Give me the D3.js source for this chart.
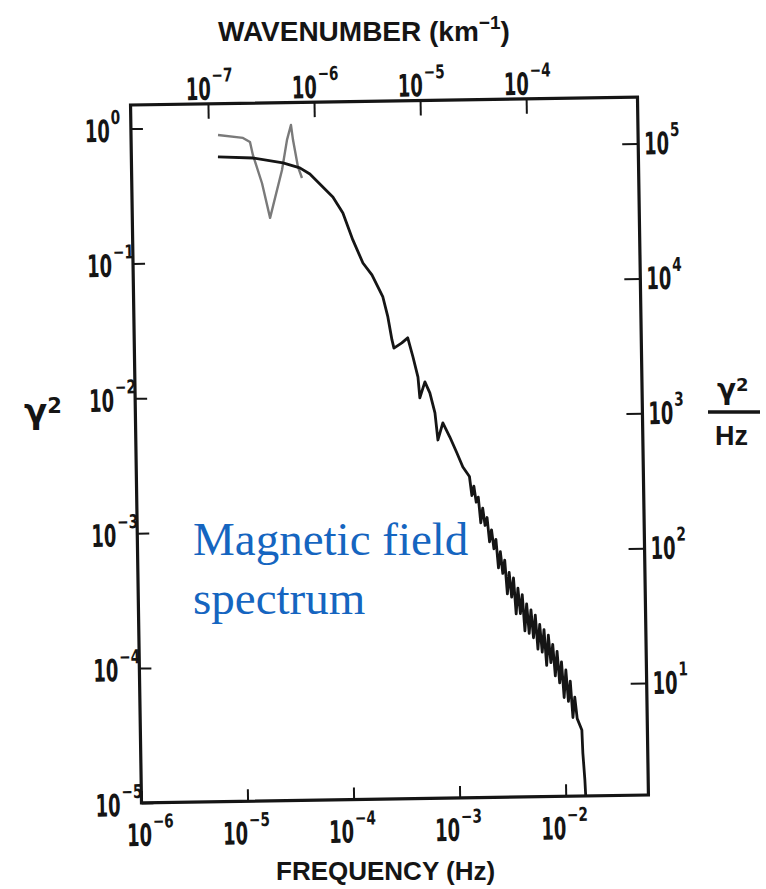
<!DOCTYPE html>
<html><head><meta charset="utf-8">
<script src="https://cdn.jsdelivr.net/npm/d3@7/dist/d3.min.js"></script>
<style>body{margin:0;background:#fff}svg{display:block}</style>
</head><body>
<svg id="chart" width="766" height="889"></svg>
<script>
// ---- data ----
const freqTicks  = [1e-6, 1e-5, 1e-4, 1e-3, 1e-2];          // Hz (bottom)
const waveTicks  = [1e-7, 1e-6, 1e-5, 1e-4];                // km^-1 (top)
const powerTicks = [1, 1e-1, 1e-2, 1e-3, 1e-4, 1e-5];       // gamma^2 (left)
const densTicks  = [1e5, 1e4, 1e3, 1e2, 1e1];               // gamma^2/Hz (right)

const mainFreq = [6.55e-6, 1.40e-5, 2.68e-5, 3.86e-5, 4.79e-5, 6.32e-5, 7.83e-5, 9.68e-5,
  1.19e-4, 1.47e-4, 1.78e-4, 2.24e-4, 2.48e-4, 2.69e-4, 2.80e-4, 3.33e-4, 3.79e-4, 4.22e-4,
  4.67e-4, 4.83e-4, 5.42e-4, 6.01e-4, 6.67e-4, 7.05e-4, 7.89e-4, 9.14e-4, 1.06e-3, 1.20e-3,
  1.380e-3, 1.445e-3, 1.514e-3, 1.585e-3, 1.660e-3, 1.738e-3, 1.820e-3, 1.905e-3, 1.995e-3,
  2.089e-3, 2.188e-3, 2.291e-3, 2.399e-3, 2.512e-3, 2.630e-3, 2.754e-3, 2.884e-3, 3.020e-3,
  3.162e-3, 3.311e-3, 3.467e-3, 3.631e-3, 3.802e-3, 3.981e-3, 4.169e-3, 4.365e-3, 4.571e-3,
  4.786e-3, 5.012e-3, 5.248e-3, 5.495e-3, 5.754e-3, 6.026e-3, 6.310e-3, 6.607e-3, 6.918e-3,
  7.244e-3, 7.586e-3, 7.943e-3, 8.318e-3, 8.710e-3, 9.120e-3, 9.550e-3, 1.000e-2, 1.047e-2,
  1.096e-2, 1.148e-2, 1.202e-2, 1.259e-2, 1.318e-2, 1.452e-2, 1.472e-2, 1.524e-2, 1.549e-2, 1.563e-2];
const mainPower = [0.603, 0.586, 0.535, 0.489, 0.439, 0.351, 0.295, 0.224,
  0.141, 0.0948, 0.0771, 0.0528, 0.0375, 0.0253, 0.0220, 0.0240, 0.0261, 0.0188,
  0.0133, 0.00933, 0.01225, 0.01014, 0.00720, 0.00453, 0.00605, 0.00475, 0.00361, 0.00284,
  2.41e-3, 1.74e-3, 2.04e-3, 1.55e-3, 1.69e-3, 1.09e-3, 1.40e-3, 1.04e-3, 1.19e-3,
  7.85e-4, 9.64e-4, 6.97e-4, 8.17e-4, 5.02e-4, 6.61e-4, 4.56e-4, 5.73e-4, 3.21e-4,
  4.63e-4, 3.04e-4, 4.22e-4, 2.28e-4, 3.53e-4, 2.29e-4, 3.16e-4, 1.70e-4, 2.70e-4,
  1.63e-4, 2.43e-4, 1.51e-4, 2.22e-4, 1.24e-4, 1.89e-4, 1.18e-4, 1.73e-4, 9.38e-5,
  1.57e-4, 9.82e-5, 1.34e-4, 7.82e-5, 1.19e-4, 6.95e-5, 9.93e-5, 5.40e-5, 8.63e-5,
  5.04e-5, 7.13e-5, 3.83e-5, 5.41e-5, 3.75e-5, 3.09e-5, 2.09e-5, 1.32e-5, 9.33e-6, 5.0e-6];

const greyFreq  = [6.61e-6, 1.135e-5, 1.32e-5, 1.40e-5, 1.69e-5, 1.99e-5, 2.62e-5, 2.95e-5, 3.23e-5, 3.36e-5, 3.71e-5, 4.03e-5];
const greyPower = [0.877, 0.828, 0.771, 0.617, 0.380, 0.210, 0.474, 0.791, 1.02, 0.791, 0.497, 0.411];

// ---- layout ----
const L = 136, R = 643, T = 101, B = 799;
const svg = d3.select("#chart");
svg.append("rect").attr("width", 766).attr("height", 889).attr("fill", "#fff");

const x    = d3.scaleLog().domain([1e-6, Math.pow(10, -1.22)]).range([L, R]);
const xTop = d3.scaleLog().domain([Math.pow(10, -7.73), Math.pow(10, -2.95)]).range([L, R]);
const y    = d3.scaleLog().domain([1e-5, Math.pow(10, 0.175)]).range([B, T]);
const yR   = d3.scaleLog().domain([Math.pow(10, 0.17), Math.pow(10, 5.345)]).range([B, T]);

const g = svg.append("g").attr("transform", "rotate(-0.9,389,451)");

g.append("clipPath").attr("id", "plotclip").append("rect")
  .attr("x", L).attr("y", T).attr("width", R - L).attr("height", B - T);

const INK = "#151515";
const BASEFONT = "'DejaVu Sans', 'Liberation Sans', sans-serif";

function expText(v) {
  const e = Math.round(Math.log10(v));
  return e < 0 ? "\u2212" + Math.abs(e) : String(e);
}
function powLabel(parent, px, py, v) {
  const lg = parent.append("g").attr("transform", `translate(${px},${py})`)
    .attr("fill", INK).attr("font-family", BASEFONT).attr("font-weight", "bold");
  lg.append("text").attr("text-anchor", "end").attr("font-size", 31)
    .attr("transform", "scale(0.58,1)").text("10");
  lg.append("text").attr("text-anchor", "start").attr("font-size", 19)
    .attr("transform", "translate(1,-18) scale(0.72,1)").text(expText(v));
}

function styleAxis(sel) {
  sel.select(".domain").remove();
  sel.selectAll(".tick line").attr("stroke", INK).attr("stroke-width", 2);
  sel.selectAll(".tick text").remove();
}

// bottom axis
const gx = g.append("g").attr("transform", `translate(0,${B})`)
  .call(d3.axisBottom(x).tickValues(freqTicks).tickSize(-12).tickFormat(""));
styleAxis(gx);
freqTicks.forEach((v, i) => powLabel(g, x(v) + (i === 0 ? 10 : 0), B + 43, v));

// top axis
const gxt = g.append("g").attr("transform", `translate(0,${T})`)
  .call(d3.axisTop(xTop).tickValues(waveTicks).tickSize(-15).tickFormat(""));
styleAxis(gxt);
waveTicks.forEach(v => powLabel(g, xTop(v) + 3, T - 4, v));

// left axis
const gy = g.append("g").attr("transform", `translate(${L},0)`)
  .call(d3.axisLeft(y).tickValues(powerTicks).tickSize(-12).tickFormat(""));
styleAxis(gy);
powerTicks.forEach(v => powLabel(g, L - 21, y(v) + 13, v));

// right axis
const gyr = g.append("g").attr("transform", `translate(${R},0)`)
  .call(d3.axisRight(yR).tickValues(densTicks).tickSize(-16).tickFormat(""));
styleAxis(gyr);
densTicks.forEach(v => powLabel(g, R + 31, yR(v) + 11, v));

// frame
g.append("rect").attr("x", L).attr("y", T).attr("width", R - L).attr("height", B - T)
  .attr("fill", "none").attr("stroke", INK).attr("stroke-width", 3.2);

// curves
const line = d3.line().x(d => x(d[0])).y(d => y(d[1]));
const greyData = greyFreq.map((f, i) => [f, greyPower[i]]);
const mainData = mainFreq.map((f, i) => [f, mainPower[i]]);
const curves = g.append("g").attr("clip-path", "url(#plotclip)");
curves.append("path").datum(greyData).attr("d", line)
  .attr("fill", "none").attr("stroke", "#7a7a7a").attr("stroke-width", 2.4)
  .attr("stroke-linejoin", "round");
curves.append("path").datum(mainData).attr("d", line)
  .attr("fill", "none").attr("stroke", INK).attr("stroke-width", 2.8)
  .attr("stroke-linejoin", "round");

// ---- titles ----
const TF = "'Liberation Sans', Arial, sans-serif";
const topTitle = svg.append("text").attr("x", 218).attr("y", 41).attr("font-family", TF)
  .attr("font-weight", "bold").attr("font-size", 28).attr("fill", INK);
topTitle.append("tspan").text("WAVENUMBER (km");
topTitle.append("tspan").attr("dy", -12).attr("font-size", 19).text("\u22121");
topTitle.append("tspan").attr("dy", 12).text(")");

svg.append("text").attr("x", 276).attr("y", 880).attr("font-family", TF)
  .attr("font-weight", "bold").attr("font-size", 26).attr("fill", INK)
  .text("FREQUENCY (Hz)");

// left title gamma^2
const leftTitle = svg.append("text").attr("x", 24).attr("y", 423).attr("font-family", BASEFONT)
  .attr("font-weight", "bold").attr("font-size", 34).attr("fill", INK);
leftTitle.append("tspan").text("\u03b3");
leftTitle.append("tspan").attr("dy", -10).attr("font-size", 21).text("2");

// right title gamma^2 / Hz
const rightTitle = svg.append("text").attr("x", 717).attr("y", 399).attr("font-family", BASEFONT)
  .attr("font-weight", "bold").attr("font-size", 28).attr("fill", INK);
rightTitle.append("tspan").text("\u03b3");
rightTitle.append("tspan").attr("dy", -8).attr("font-size", 18).text("2");
svg.append("line").attr("x1", 708).attr("x2", 760).attr("y1", 412).attr("y2", 412)
  .attr("stroke", INK).attr("stroke-width", 3.5);
svg.append("text").attr("x", 715).attr("y", 445).attr("font-family", TF)
  .attr("font-weight", "bold").attr("font-size", 27).attr("fill", INK).text("Hz");

// annotation
const ann = svg.append("text").attr("font-family", "'Liberation Serif', 'Times New Roman', serif")
  .attr("font-size", 47).attr("fill", "#1565c0");
ann.append("tspan").attr("x", 193).attr("y", 555).text("Magnetic field");
ann.append("tspan").attr("x", 193).attr("y", 614).text("spectrum");
</script>
</body></html>
